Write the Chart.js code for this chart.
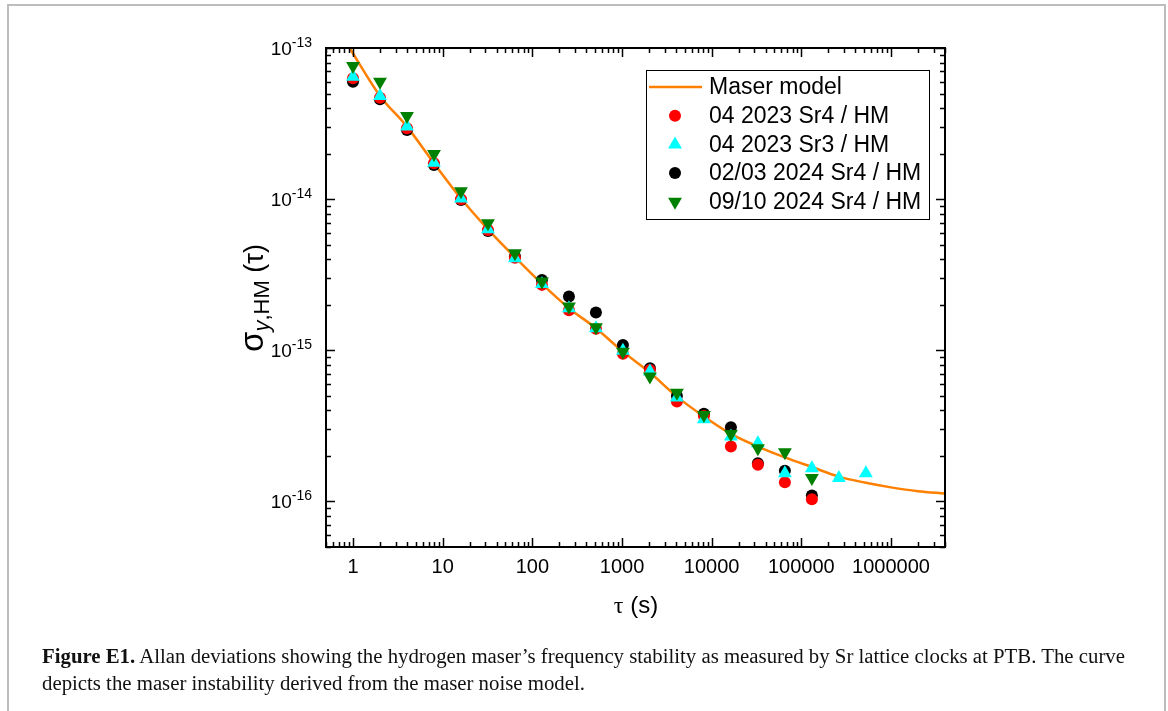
<!DOCTYPE html>
<html>
<head>
<meta charset="utf-8">
<script src="https://cdn.jsdelivr.net/npm/chart.js@4.4.1/dist/chart.umd.min.js"></script>
<style>
  html, body { margin: 0; padding: 0; background: #fff; }
  #wrap { position: relative; width: 1168px; height: 711px; overflow: hidden; }
  #frame { position: absolute; left: 7px; top: 4px; width: 1155px; height: 730px; border: 2px solid #bdbdbd; }
  #chart { position: absolute; left: 0; top: 0; }
  #caption { position: absolute; left: 42px; top: 642px; font-family: "Liberation Serif", serif; font-size: 20.8px;
             line-height: 27px; color: #111; white-space: nowrap; }
</style>
</head>
<body>
<div id="wrap">
  <div id="frame"></div>
  <canvas id="chart" width="1168" height="711"></canvas>
  <div id="caption"><b>Figure E1.</b> Allan deviations showing the hydrogen maser’s frequency stability as measured by Sr lattice clocks at PTB. The curve<br>depicts the maser instability derived from the maser noise model.</div>
</div>
<script>
// averaging times (s)
const tau = [1, 2, 4, 8, 16, 32, 64, 128, 256, 512, 1024, 2048, 4096, 8192, 16384, 32768, 65536, 131072, 262144, 524288];

const sr4_2023 = [6.30e-14, 4.69e-14, 2.94e-14, 1.73e-14, 9.98e-15, 6.26e-15, 4.10e-15, 2.71e-15, 1.84e-15, 1.39e-15,
                  9.5e-16, 7.42e-16, 4.58e-16, 3.68e-16, 2.31e-16, 1.75e-16, 1.34e-16, 1.035e-16];
const sr3_2023 = [6.46e-14, 4.81e-14, 3.02e-14, 1.74e-14, 1.01e-14, 6.32e-15, 4.06e-15, 2.75e-15, 1.90e-15, 1.40e-15,
                  9.95e-16, 7.23e-16, 4.87e-16, 3.50e-16, 2.69e-16, 2.43e-16, 1.54e-16, 1.66e-16, 1.43e-16, 1.54e-16];
const sr4_2024a = [5.98e-14, 4.58e-14, 2.87e-14, 1.68e-14, 9.88e-15, 6.16e-15, 4.17e-15, 2.92e-15, 2.27e-15, 1.78e-15,
                   1.085e-15, 7.61e-16, 4.99e-16, 3.80e-16, 3.10e-16, 1.79e-16, 1.60e-16, 1.094e-16];
const sr4_2024b = [7.60e-14, 5.98e-14, 3.55e-14, 1.99e-14, 1.13e-14, 6.93e-15, 4.39e-15, 2.85e-15, 1.95e-15, 1.42e-15,
                   9.8e-16, 6.70e-16, 5.25e-16, 3.74e-16, 2.80e-16, 2.25e-16, 2.12e-16, 1.43e-16];

// maser noise model curve
const modelTau = [0.9, 1, 2, 4, 8, 16, 32, 64, 128, 256, 512, 1024, 2048, 4096, 8192, 16384, 32768, 65536, 131072,
                  262144, 524288, 1e6, 2e6, 4e6];
const modelSigma = [1.02e-13, 9.2e-14, 4.82e-14, 3.02e-14, 1.73e-14, 1.01e-14, 6.32e-15, 4.13e-15, 2.75e-15, 1.90e-15,
                    1.40e-15, 9.8e-16, 7.13e-16, 4.94e-16, 3.65e-16, 2.80e-16, 2.31e-16, 1.96e-16, 1.69e-16,
                    1.46e-16, 1.33e-16, 1.24e-16, 1.17e-16, 1.13e-16];

const xTickLabels = ['1', '10', '100', '1000', '10000', '100000', '1000000'];
const yTickExps = [-13, -14, -15, -16];

const legendItems = [
  { label: 'Maser model', kind: 'line', color: '#ff8000' },
  { label: '04 2023 Sr4 / HM', kind: 'circle', color: '#ff0000' },
  { label: '04 2023 Sr3 / HM', kind: 'up', color: '#00ffff' },
  { label: '02/03 2024 Sr4 / HM', kind: 'circle', color: '#000000' },
  { label: '09/10 2024 Sr4 / HM', kind: 'down', color: '#008000' }
];

function pts(ys) {
  return ys.map((v, i) => ({ x: tau[i], y: v }));
}

function marker(ctx, kind, x, y, color) {
  ctx.fillStyle = color;
  ctx.beginPath();
  if (kind === 'circle') {
    ctx.arc(x, y, 6, 0, Math.PI * 2);
  } else {
    const r = 8;
    let a = kind === 'down' ? Math.PI : 0;
    ctx.moveTo(x + Math.sin(a) * r, y - Math.cos(a) * r);
    a += 2 * Math.PI / 3;
    ctx.lineTo(x + Math.sin(a) * r, y - Math.cos(a) * r);
    a += 2 * Math.PI / 3;
    ctx.lineTo(x + Math.sin(a) * r, y - Math.cos(a) * r);
    ctx.closePath();
  }
  ctx.fill();
}

const axesPlugin = {
  id: 'axesPlugin',
  afterDraw(chart) {
    const ctx = chart.ctx;
    const a = chart.chartArea;
    const xs = chart.scales.x, ys = chart.scales.y;
    ctx.save();
    ctx.strokeStyle = '#000';
    ctx.fillStyle = '#000';

    // ticks on all four sides, pointing inwards
    ctx.lineWidth = 1.5;
    ctx.beginPath();
    for (let e = -1; e <= 6; e++) {
      for (let m = 1; m <= 9; m++) {
        const v = m * Math.pow(10, e);
        if (v < xs.min * 0.999 || v > xs.max * 1.001) continue;
        const px = Math.round(xs.getPixelForValue(v)) + 0.5;
        const len = m === 1 ? 9 : 5;
        ctx.moveTo(px, a.bottom); ctx.lineTo(px, a.bottom - len);
        ctx.moveTo(px, a.top); ctx.lineTo(px, a.top + len);
      }
    }
    for (let e = -17; e <= -13; e++) {
      for (let m = 1; m <= 9; m++) {
        const v = m * Math.pow(10, e);
        if (v < ys.min * 0.999 || v > ys.max * 1.001) continue;
        const py = Math.round(ys.getPixelForValue(v)) + 0.5;
        const len = m === 1 ? 9 : 5;
        ctx.moveTo(a.left, py); ctx.lineTo(a.left + len, py);
        ctx.moveTo(a.right, py); ctx.lineTo(a.right - len, py);
      }
    }
    ctx.stroke();

    // frame
    ctx.lineWidth = 2;
    ctx.strokeRect(a.left, a.top, a.right - a.left, a.bottom - a.top);

    // x tick labels
    ctx.font = '20px "Liberation Sans", Arial, sans-serif';
    ctx.textAlign = 'center';
    ctx.textBaseline = 'alphabetic';
    xTickLabels.forEach(t => {
      ctx.fillText(t, xs.getPixelForValue(Number(t)), 573);
    });

    // y tick labels with superscript exponents
    ctx.textAlign = 'left';
    yTickExps.forEach(e => {
      const py = ys.getPixelForValue(Math.pow(10, e));
      ctx.font = '14px "Liberation Sans", Arial, sans-serif';
      const sup = '-' + Math.abs(e);
      const ws = ctx.measureText(sup).width;
      ctx.font = '19px "Liberation Sans", Arial, sans-serif';
      const wb = ctx.measureText('10').width;
      const x0 = 312 - ws - wb;
      ctx.fillText('10', x0, py + 7);
      ctx.font = '14px "Liberation Sans", Arial, sans-serif';
      ctx.fillText(sup, x0 + wb, py - 1);
    });

    // x axis title
    ctx.textAlign = 'left';
    ctx.font = '24px "Liberation Serif", serif';
    const wt = ctx.measureText('τ').width;
    ctx.font = '24px "Liberation Sans", Arial, sans-serif';
    const wr = ctx.measureText(' (s)').width;
    let tx = 636 - (wt + wr) / 2;
    ctx.font = '24px "Liberation Serif", serif';
    ctx.fillText('τ', tx, 613);
    ctx.font = '24px "Liberation Sans", Arial, sans-serif';
    ctx.fillText(' (s)', tx + wt, 613);

    // y axis title, rotated
    ctx.save();
    ctx.translate(263, 298);
    ctx.rotate(-Math.PI / 2);
    const f1 = '33px "Liberation Sans", Arial, sans-serif';
    const f2 = 'italic 22px "Liberation Sans", Arial, sans-serif';
    const f3 = '22px "Liberation Sans", Arial, sans-serif';
    const f4 = '27px "Liberation Sans", Arial, sans-serif';
    ctx.font = f1; const w1 = ctx.measureText('σ').width;
    ctx.font = f2; const w2 = ctx.measureText('y').width;
    ctx.font = f3; const w3 = ctx.measureText(',HM').width;
    ctx.font = f4; const w4 = ctx.measureText(' (τ)').width;
    let ox = -(w1 + w2 + w3 + w4) / 2;
    ctx.font = f1; ctx.fillText('σ', ox, 0); ox += w1;
    ctx.font = f2; ctx.fillText('y', ox, 6); ox += w2;
    ctx.font = f3; ctx.fillText(',HM', ox, 6); ox += w3;
    ctx.font = f4; ctx.fillText(' (τ)', ox, 0);
    ctx.restore();

    // legend
    ctx.lineWidth = 1;
    ctx.strokeStyle = '#000';
    ctx.fillStyle = '#fff';
    ctx.fillRect(646, 70, 283, 149);
    ctx.strokeRect(646.5, 70.5, 283, 149);
    ctx.font = '23px "Liberation Sans", Arial, sans-serif';
    ctx.textBaseline = 'middle';
    legendItems.forEach((it, i) => {
      const cy = 87 + i * 28.7;
      if (it.kind === 'line') {
        ctx.strokeStyle = it.color;
        ctx.lineWidth = 2.5;
        ctx.beginPath(); ctx.moveTo(649, cy); ctx.lineTo(702, cy); ctx.stroke();
      } else {
        marker(ctx, it.kind, 675, cy, it.color);
      }
      ctx.fillStyle = '#000';
      ctx.fillText(it.label, 709, cy + 1);
    });
    ctx.restore();
  }
};

const ctx = document.getElementById('chart').getContext('2d');
const chart = new Chart(ctx, {
  type: 'scatter',
  data: {
    datasets: [
      {
        label: 'Maser model', data: modelTau.map((t, i) => ({ x: t, y: modelSigma[i] })),
        showLine: true, borderColor: '#ff8000', borderWidth: 2.5, pointRadius: 0,
        cubicInterpolationMode: 'monotone', order: 5
      },
      { label: '04 2023 Sr4 / HM', data: pts(sr4_2023), pointStyle: 'circle', pointRadius: 6,
        backgroundColor: '#ff0000', pointBorderWidth: 0, order: 3 },
      { label: '04 2023 Sr3 / HM', data: pts(sr3_2023), pointStyle: 'triangle', pointRadius: 8,
        backgroundColor: '#00ffff', pointBorderWidth: 0, order: 2 },
      { label: '02/03 2024 Sr4 / HM', data: pts(sr4_2024a), pointStyle: 'circle', pointRadius: 6,
        backgroundColor: '#000000', pointBorderWidth: 0, order: 4 },
      { label: '09/10 2024 Sr4 / HM', data: pts(sr4_2024b), pointStyle: 'triangle', pointRotation: 180, pointRadius: 8,
        backgroundColor: '#008000', pointBorderWidth: 0, order: 1 }
    ]
  },
  options: {
    responsive: false,
    animation: false,
    devicePixelRatio: 1,
    layout: { padding: { left: 326, right: 223, top: 48, bottom: 164 } },
    plugins: { legend: { display: false }, tooltip: { enabled: false } },
    scales: {
      x: { type: 'logarithmic', min: 0.5, max: 4e6, display: false },
      y: { type: 'logarithmic', min: 5e-17, max: 1e-13, display: false }
    }
  },
  plugins: [axesPlugin]
});
</script>
</body>
</html>
